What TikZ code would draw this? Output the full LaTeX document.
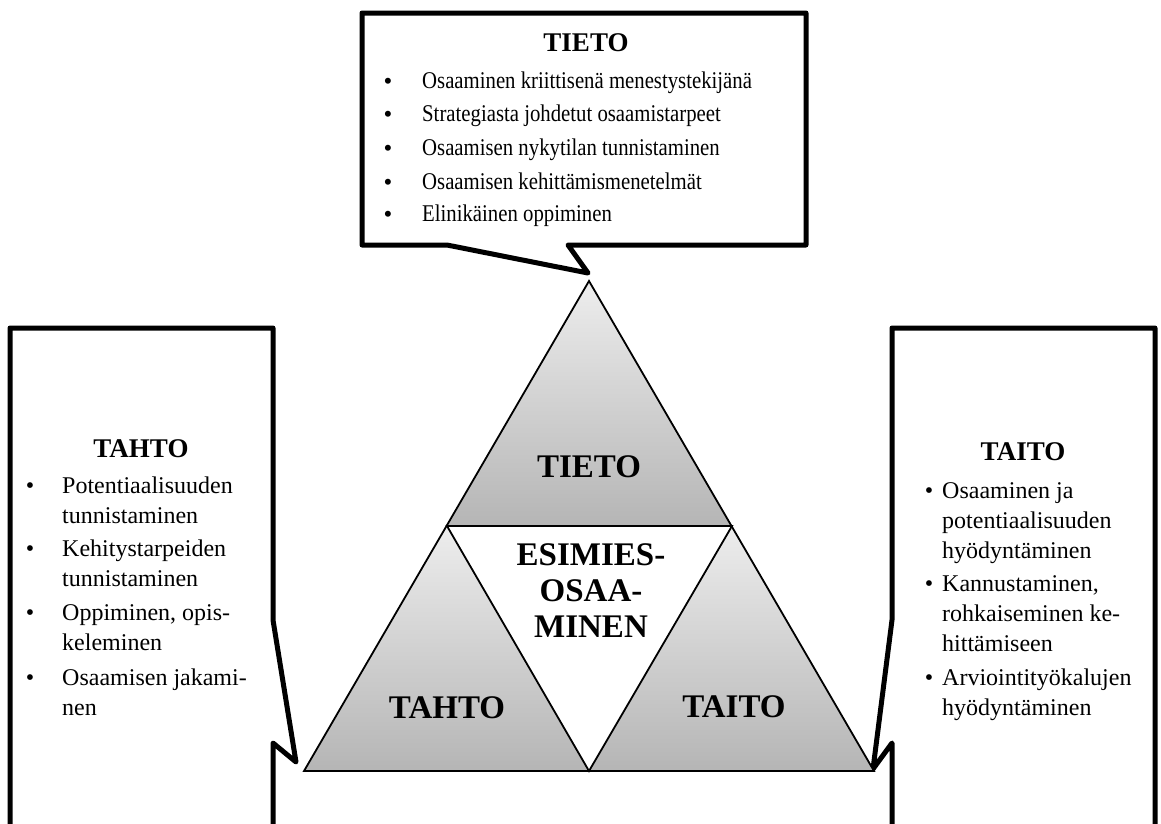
\documentclass[tikz,border=0pt]{standalone}
\usepackage{graphicx}
\usepackage{fontspec}
\setmainfont{Liberation Serif}
\newcommand\itemlines[1]{\begin{tabular}[t]{@{}l@{}}#1\end{tabular}}
\newcommand\narrowtext[1]{\scalebox{0.865}[1]{#1}}
\begin{document}
\begin{tikzpicture}[x=1pt,y=-1pt,
  callout/.style={draw=black,line width=5pt,line join=round,fill=white},
  tri/.style={draw=black,line width=1.8pt,line join=miter},
  trishade/.style={top color=black!7,bottom color=black!29},
  trilabel/.style={font=\fontsize{33}{36}\selectfont\bfseries,align=center,inner sep=0pt},
  boxtitle/.style={font=\fontsize{27}{30}\selectfont\bfseries,inner sep=0pt},
  topitem/.style={font=\fontsize{24}{30}\selectfont,inner sep=0pt,anchor=base west},
  topbul/.style={font=\fontsize{25}{30}\selectfont,inner sep=0pt,anchor=base},
  item/.style={font=\fontsize{24}{30}\selectfont,inner sep=0pt,anchor=base west},
  bul/.style={font=\fontsize{24}{30}\selectfont,inner sep=0pt,anchor=base}
]
\useasboundingbox (0,0) rectangle (1161,823);
\clip (0,0) rectangle (1161,823);
\fill[white] (0,0) rectangle (1161,823);

% callout frames
\draw[callout] (362,13) -- (806,13) -- (806,245) -- (568,245) -- (588,273)
  -- (447,245) -- (362,245) -- cycle;
\draw[callout] (10,328) -- (273,328) -- (273,620) -- (296,762) -- (273,743)
  -- (273,840) -- (10,840) -- cycle;
\draw[callout] (892,328) -- (1155,328) -- (1155,840) -- (892,840) -- (892,743)
  -- (873,769) -- (892,620) -- cycle;

% triangle corners
\coordinate (A) at (589,281);
\coordinate (L) at (304,771);
\coordinate (R) at (874,771);
\coordinate (M) at (589,771);
\coordinate (P) at (447,526);
\coordinate (Q) at (732,526);

% soft drop shadows
\foreach \d/\o in {2/0.10,4/0.08,6/0.06,8/0.04,10/0.02} {
  \fill[black,opacity=\o,shift={(1.5,\d)}] (A) -- (P) -- (Q) -- cycle;
  \fill[black,opacity=\o,shift={(1.5,\d)}] (P) -- (L) -- (M) -- cycle;
  \fill[black,opacity=\o,shift={(1.5,\d)}] (Q) -- (M) -- (R) -- cycle;
}

% shaded triangles
\shade[trishade] (A) -- (P) -- (Q) -- cycle;
\shade[trishade] (P) -- (L) -- (M) -- cycle;
\shade[trishade] (Q) -- (M) -- (R) -- cycle;
\fill[white] (P) -- (Q) -- (M) -- cycle;
\draw[tri] (A) -- (L) -- (R) -- cycle;
\draw[tri] (P) -- (Q) -- (M) -- cycle;

\node[trilabel] (tieto) at (589,467) {TIETO};
\node[trilabel] (esimies) at (591,591) {ESIMIES-\\OSAA-\\MINEN};
\node[trilabel] (tahto) at (447,708) {TAHTO};
\node[trilabel] (taito) at (734,707) {TAITO};

% top box
\node[boxtitle] (ttitle) at (586,43) {TIETO};
\node[topbul] (tb1) at (388,89) {•};
\node[topitem] (ti1) at (422,88) {\narrowtext{Osaaminen kriittisenä menestystekijänä}};
\node[topbul] (tb2) at (388,122) {•};
\node[topitem] (ti2) at (422,121) {\narrowtext{Strategiasta johdetut osaamistarpeet}};
\node[topbul] (tb3) at (388,156) {•};
\node[topitem] (ti3) at (422,155) {\narrowtext{Osaamisen nykytilan tunnistaminen}};
\node[topbul] (tb4) at (388,190) {•};
\node[topitem] (ti4) at (422,189) {\narrowtext{Osaamisen kehittämismenetelmät}};
\node[topbul] (tb5) at (388,222) {•};
\node[topitem] (ti5) at (422,221) {\narrowtext{Elinikäinen oppiminen}};

% left box
\node[boxtitle] (ltitle) at (141,449) {TAHTO};
\node[bul] (lb1) at (30,493) {•};
\node[item] (li1) at (62,493) {\itemlines{Potentiaalisuuden\\tunnistaminen}};
\node[bul] (lb2) at (30,556) {•};
\node[item] (li2) at (62,556) {\itemlines{Kehitystarpeiden\\tunnistaminen}};
\node[bul] (lb3) at (30,620) {•};
\node[item] (li3) at (62,620) {\itemlines{Oppiminen, opis-\\keleminen}};
\node[bul] (lb4) at (30,685) {•};
\node[item] (li4) at (62,685) {\itemlines{Osaamisen jakami-\\nen}};

% right box
\node[boxtitle] (rtitle) at (1023,452) {TAITO};
\node[bul] (rb1) at (929,498) {•};
\node[item] (ri1) at (942,498) {\itemlines{Osaaminen ja\\potentiaalisuuden\\hyödyntäminen}};
\node[bul] (rb2) at (929,591) {•};
\node[item] (ri2) at (942,591) {\itemlines{Kannustaminen,\\rohkaiseminen ke-\\hittämiseen}};
\node[bul] (rb3) at (929,685) {•};
\node[item] (ri3) at (942,685) {\itemlines{Arviointityökalujen\\hyödyntäminen}};
\end{tikzpicture}
\end{document}
